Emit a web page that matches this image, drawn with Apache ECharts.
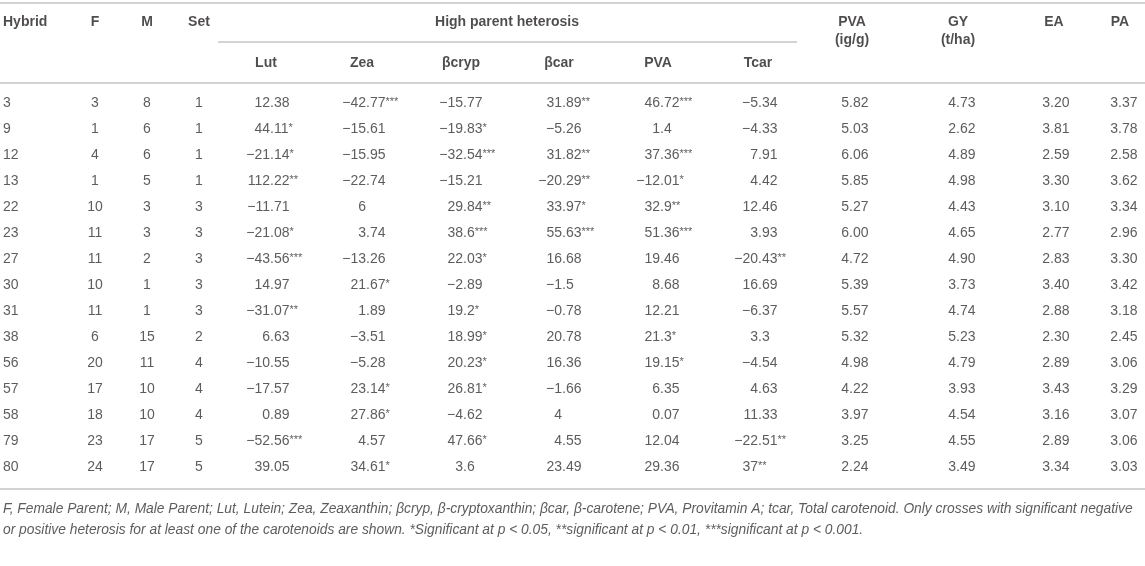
<!DOCTYPE html>
<html>
<head>
    <meta charset="utf-8">
    <title>High parent heterosis</title>
    <script src="https://cdn.jsdelivr.net/npm/echarts@6.0.0/dist/echarts.min.js"></script>
    <style>
        html, body { margin: 0; padding: 0; background: #fff; }
        #table { width: 1145px; height: 566px; }
    </style>
</head>
<body>
<div id="table"></div>

<script>
    // table content
    const hybrids = ['3', '9', '12', '13', '22', '23', '27', '30', '31', '38', '56', '57', '58', '79', '80'];
    const female = ['3', '1', '4', '1', '10', '11', '11', '10', '11', '6', '20', '17', '18', '23', '24'];
    const male = ['8', '6', '6', '5', '3', '3', '2', '1', '1', '15', '11', '10', '10', '17', '17'];
    const sets = ['1', '1', '1', '1', '3', '3', '3', '3', '3', '2', '4', '4', '4', '5', '5'];

    // high parent heterosis, stars = significance
    const lut = ['12.38', '44.11*', '-21.14*', '112.22**', '-11.71', '-21.08*', '-43.56***', '14.97', '-31.07**', '6.63', '-10.55', '-17.57', '0.89', '-52.56***', '39.05'];
    const zea = ['-42.77***', '-15.61', '-15.95', '-22.74', '6', '3.74', '-13.26', '21.67*', '1.89', '-3.51', '-5.28', '23.14*', '27.86*', '4.57', '34.61*'];
    const bcryp = ['-15.77', '-19.83*', '-32.54***', '-15.21', '29.84**', '38.6***', '22.03*', '-2.89', '19.2*', '18.99*', '20.23*', '26.81*', '-4.62', '47.66*', '3.6'];
    const bcar = ['31.89**', '-5.26', '31.82**', '-20.29**', '33.97*', '55.63***', '16.68', '-1.5', '-0.78', '20.78', '16.36', '-1.66', '4', '4.55', '23.49'];
    const pvaHet = ['46.72***', '1.4', '37.36***', '-12.01*', '32.9**', '51.36***', '19.46', '8.68', '12.21', '21.3*', '19.15*', '6.35', '0.07', '12.04', '29.36'];
    const tcar = ['-5.34', '-4.33', '7.91', '4.42', '12.46', '3.93', '-20.43**', '16.69', '-6.37', '3.3', '-4.54', '4.63', '11.33', '-22.51**', '37**'];

    const pva = ['5.82', '5.03', '6.06', '5.85', '5.27', '6.00', '4.72', '5.39', '5.57', '5.32', '4.98', '4.22', '3.97', '3.25', '2.24'];
    const gy = ['4.73', '2.62', '4.89', '4.98', '4.43', '4.65', '4.90', '3.73', '4.74', '5.23', '4.79', '3.93', '4.54', '4.55', '3.49'];
    const ea = ['3.20', '3.81', '2.59', '3.30', '3.10', '2.77', '2.83', '3.40', '2.88', '2.30', '2.89', '3.43', '3.16', '2.89', '3.34'];
    const pa = ['3.37', '3.78', '2.58', '3.62', '3.34', '2.96', '3.30', '3.42', '3.18', '2.45', '3.06', '3.29', '3.07', '3.06', '3.03'];

    const hetHeaders = ['Lut', 'Zea', 'βcryp', 'βcar', 'PVA', 'Tcar'];
    const footnote = [
        'F, Female Parent; M, Male Parent; Lut, Lutein; Zea, Zeaxanthin; βcryp, β-cryptoxanthin; βcar, β-carotene; PVA, Provitamin A; tcar, Total carotenoid. Only crosses with significant negative',
        'or positive heterosis for at least one of the carotenoids are shown. *Significant at p < 0.05, **significant at p < 0.01, ***significant at p < 0.001.'
    ];

    // layout (pixels)
    const W = 1145, H = 566;
    const FONT = 'Liberation Sans, Arial, Helvetica, sans-serif';
    const rowY0 = 103, rowStep = 26;
    const headY1 = 22, headY2 = 63;
    const idX = { hybrid: 3, f: 95, m: 147, set: 199 };
    const hetX = [270, 366, 463, 562, 660, 758];   // decimal point of each heterosis column
    const hetHeadX = [266, 362, 461, 559, 658, 758];
    const rightX = [849, 956, 1050, 1118];         // decimal point of PVA, GY, EA, PA
    const rightHeadX = [852, 958, 1054, 1120];
    const rules = [
        [[0, 3], [W, 3]],
        [[218, 42], [797, 42]],
        [[0, 83], [W, 83]],
        [[0, 489], [W, 489]]
    ];

    const textColor = '#333';
    const headColor = '#231f20';

    const cells = [];

    function addText(x, y, text, align, extra) {
        cells.push({
            value: [x, y],
            label: Object.assign({
                show: true,
                position: 'inside',
                align: align,
                verticalAlign: 'middle',
                formatter: text
            }, extra || {})
        });
    }

    // split a number at its decimal point so a column lines up on it
    function addNumber(x, y, raw) {
        const stars = (raw.match(/\*+$/) || [''])[0];
        const num = raw.slice(0, raw.length - stars.length).replace('-', '\u2212');
        const dot = num.indexOf('.');
        const intPart = dot < 0 ? num : num.slice(0, dot);
        const fracPart = dot < 0 ? '' : num.slice(dot);
        addText(x, y, intPart, 'right');
        let rich = '';
        if (fracPart) rich += '{n|' + fracPart + '}';
        if (stars) rich += '{s|' + stars + '}';
        if (rich) addText(x, y, rich, 'left');
    }

    hybrids.forEach(function (h, i) {
        const y = rowY0 + i * rowStep;
        addText(idX.hybrid, y, h, 'left');
        addText(idX.f, y, female[i], 'center');
        addText(idX.m, y, male[i], 'center');
        addText(idX.set, y, sets[i], 'center');
        [lut, zea, bcryp, bcar, pvaHet, tcar].forEach(function (col, c) {
            addNumber(hetX[c], y, col[i]);
        });
        [pva, gy, ea, pa].forEach(function (col, c) {
            addNumber(rightX[c], y, col[i]);
        });
    });

    const bold = { fontWeight: 'bold', color: headColor };
    addText(idX.hybrid, headY1, 'Hybrid', 'left', bold);
    addText(idX.f, headY1, 'F', 'center', bold);
    addText(idX.m, headY1, 'M', 'center', bold);
    addText(idX.set, headY1, 'Set', 'center', bold);
    addText(507, headY1, 'High parent heterosis', 'center', bold);
    hetHeaders.forEach(function (t, c) {
        addText(hetHeadX[c], headY2, t, 'center', bold);
    });
    addText(rightHeadX[0], headY1, 'PVA', 'center', bold);
    addText(rightHeadX[0], headY1 + 18, '(ig/g)', 'center', bold);
    addText(rightHeadX[1], headY1, 'GY', 'center', bold);
    addText(rightHeadX[1], headY1 + 18, '(t/ha)', 'center', bold);
    addText(rightHeadX[2], headY1, 'EA', 'center', bold);
    addText(rightHeadX[3], headY1, 'PA', 'center', bold);

    const italic = { fontStyle: 'italic', fontSize: 13.8, color: textColor };
    footnote.forEach(function (t, i) {
        addText(3, 509 + i * 21, t, 'left', italic);
    });

    const chart = echarts.init(document.getElementById('table'), null, { renderer: 'canvas' });
    chart.setOption({
        animation: false,
        backgroundColor: '#fff',
        grid: { left: 0, right: 0, top: 0, bottom: 0 },
        xAxis: { type: 'value', min: 0, max: W, show: false },
        yAxis: { type: 'value', min: 0, max: H, inverse: true, show: false },
        series: [
            {
                type: 'lines',
                coordinateSystem: 'cartesian2d',
                silent: true,
                lineStyle: { color: '#c4c4c4', width: 1.5, opacity: 1 },
                data: rules.map(function (r) { return { coords: r }; })
            },
            {
                type: 'scatter',
                symbolSize: 0,
                silent: true,
                label: {
                    show: true,
                    fontFamily: FONT,
                    fontSize: 14,
                    color: textColor,
                    rich: {
                        n: { fontFamily: FONT, fontSize: 14, color: textColor },
                        s: { fontFamily: FONT, fontSize: 11, color: textColor, verticalAlign: 'top', padding: [0, 0, 3, 0] }
                    }
                },
                data: cells
            }
        ]
    });
</script>
</body>
</html>
